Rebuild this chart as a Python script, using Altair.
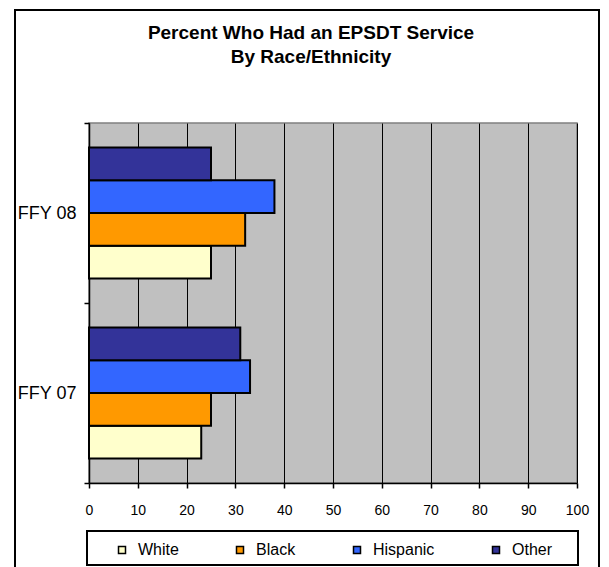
import altair as alt
import pandas as pd

periods = ["FFY 08", "FFY 07"]
groups = ["White", "Black", "Hispanic", "Other"]
ffy08 = [25, 32, 38, 25]
ffy07 = [23, 25, 33, 31]
colors = ["#FFFFCC", "#FF9900", "#3366FF", "#333399"]
x_ticks = list(range(0, 101, 10))

rows = []
for p, vals in zip(periods, [ffy08, ffy07]):
    for g, v in zip(groups, vals):
        rows.append({"period": p, "group": g, "value": v})
df = pd.DataFrame(rows)

FONT = "Liberation Sans, Arial, sans-serif"

bars = alt.Chart(df).mark_bar(stroke="black", strokeWidth=2).encode(
    x=alt.X(
        "value:Q",
        scale=alt.Scale(domain=[0, 100], nice=False),
        axis=alt.Axis(
            title=None, values=x_ticks, grid=True, gridColor="black", gridWidth=1,
            gridOpacity=1, domainColor="black", domainWidth=1.5, tickColor="black",
            tickSize=5, tickWidth=1.5, labelFontSize=14, labelFont=FONT,
            labelColor="black", labelPadding=15, labelFlush=False,
        ),
    ),
    y=alt.Y(
        "period:N",
        sort=periods,
        scale=alt.Scale(paddingInner=0, paddingOuter=0),
        axis=alt.Axis(
            title=None, tickBand="extent", domainColor="black", domainWidth=1.5,
            tickColor="black", tickSize=5, tickWidth=1.5, labelFontSize=18,
            labelFont=FONT, labelColor="black", labelPadding=8, grid=False,
        ),
    ),
    yOffset=alt.YOffset(
        "group:N",
        sort=["Other", "Hispanic", "Black", "White"],
        scale=alt.Scale(paddingInner=0, paddingOuter=0.748),
    ),
    color=alt.Color(
        "group:N",
        scale=alt.Scale(domain=groups, range=colors),
        legend=alt.Legend(
            title=None, orient="none", legendX=25, legendY=419,
            direction="horizontal", symbolType="square", symbolSize=49,
            symbolStrokeColor="black", symbolStrokeWidth=1.5, symbolOpacity=1,
            labelFontSize=16, labelFont=FONT, labelColor="black",
            columnPadding=53, labelOffset=8, padding=0,
        ),
    ),
)

frame = alt.Chart(pd.DataFrame({"k": [0]})).mark_rect(
    fill="transparent", stroke="black", strokeWidth=2
).encode(
    x=alt.value(-74), x2=alt.value(510), y=alt.value(-113), y2=alt.value(700)
)

legend_box = alt.Chart(pd.DataFrame({"k": [0]})).mark_rect(
    fill="transparent", stroke="black", strokeWidth=2
).encode(
    x=alt.value(-2), x2=alt.value(489), y=alt.value(408), y2=alt.value(442)
)

chart = alt.layer(bars, legend_box, frame).properties(
    width=488,
    height=360,
    background="white",
    autosize=alt.AutoSizeParams(type="none"),
    padding={"left": 81, "top": 115, "right": 24, "bottom": 84},
    title=alt.Title(
        ["Percent Who Had an EPSDT Service", "By Race/Ethnicity"],
        fontSize=19, font=FONT, fontWeight="bold", color="black",
        lineHeight=24, anchor="middle", dx=-22, offset=0, dy=58,
    ),
).configure_view(
    fill="#C0C0C0", stroke="#808080", strokeWidth=1.5
)

chart.save("out.html", embed_options={"renderer": "svg", "actions": False})
